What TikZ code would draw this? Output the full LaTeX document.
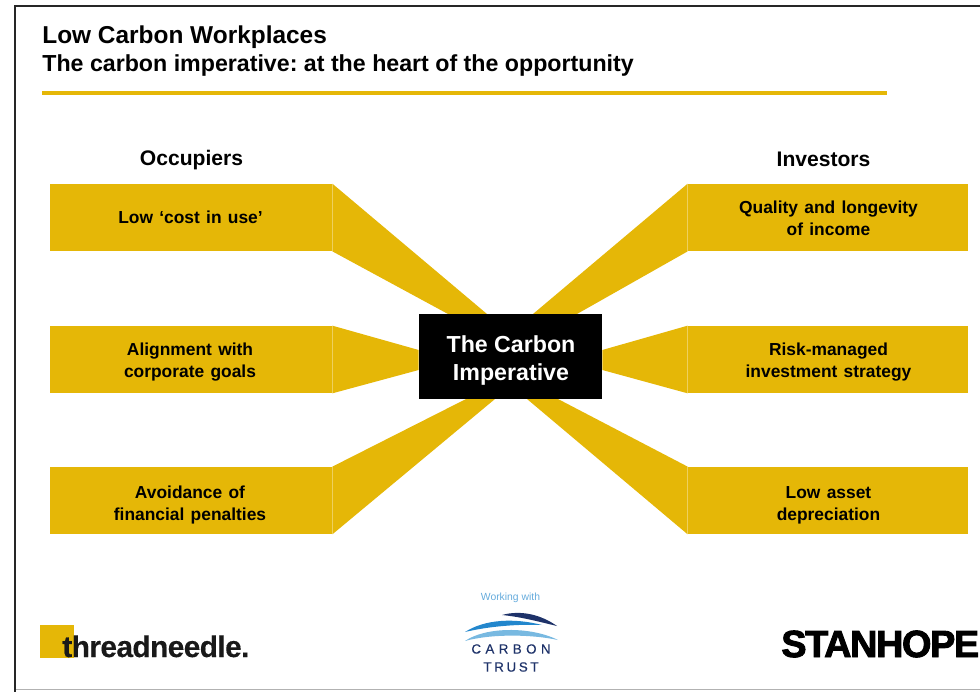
\documentclass[tikz,border=0pt]{standalone}
\usepackage{fontspec}
\setmainfont{Liberation Sans}
\newfontfamily\boxfont[WordSpace=1.3]{Liberation Sans Bold}
\newfontfamily\needlefont[LetterSpace=-2,FakeBold=0.3]{Liberation Sans Bold}
\newfontfamily\hopefont[LetterSpace=-3.5,FakeBold=2.5]{Liberation Sans Bold}
\newfontfamily\trustfont[LetterSpace=33,FakeBold=0.4]{Liberation Sans}
\newfontfamily\trustbfont[LetterSpace=20,FakeBold=0.4]{Liberation Sans}
\definecolor{gold}{RGB}{229,183,7}
\definecolor{navy}{RGB}{30,50,105}
\definecolor{midblue}{RGB}{35,135,205}
\definecolor{paleblue}{RGB}{120,185,225}
\tikzset{
  goalbox/.style={fill=gold,minimum width=5.64cm,minimum height=1.34cm,inner sep=0pt},
  goaltext/.style={inner sep=0pt,align=center,font=\fontsize{9.9}{12.5}\boxfont,text=black},
  head/.style={anchor=base,inner sep=0pt,font=\fontsize{12}{14}\selectfont\bfseries,text=black},
  title/.style={anchor=base west,inner sep=0pt,font=\fontsize{13.2}{16}\selectfont\bfseries\frenchspacing,text=black},
}
\begin{document}
\begin{tikzpicture}[x=0.02cm,y=-0.02cm]

    % constants
    \def\xl{191}
    \def\xr{828}
    \def\xt{828.5}
    \def\ya{217.5}
    \def\yb{359.5}
    \def\yc{500.5}

    \useasboundingbox (0,0) rectangle (980,692);

    % frame
    \draw [line width=0.5pt,black!30] (14,689.5) -- (980,689.5);
    \draw [line width=1.2pt,black!85] (15,692) -- (15,6) -- (980,6);

    % title
    \node [title,font=\fontsize{13.9}{16}\selectfont\bfseries] (titlea) at (42,44) {Low Carbon Workplaces};
    \node [title] (titleb) at (42,72) {The carbon imperative: at the heart of the opportunity};
    \fill [gold] (42,91.5) rectangle (887,95.5);

    \node [head] (occupiers) at (191.5,166) {Occupiers};
    \node [head] (investors) at (823.5,167) {Investors};

    % boxes
    \node [goalbox] (costuse) at (\xl,\ya) {};
    \node [goalbox] (goals) at (\xl,\yb) {};
    \node [goalbox] (penalties) at (\xl,\yc) {};
    \node [goalbox,minimum width=5.6cm] (income) at (\xr,\ya) {};
    \node [goalbox,minimum width=5.6cm] (strategy) at (\xr,\yb) {};
    \node [goalbox,minimum width=5.6cm] (depreciation) at (\xr,\yc) {};

    \node [goaltext] (costusetext) at (190.5,217) {Low ‘cost in use’};
    \node [goaltext] (goalstext) at (190,362.5) {Alignment with\\corporate goals};
    \node [goaltext] (penaltiestext) at (190,505) {Avoidance of\\financial penalties};
    \node [goaltext] (incometext) at (\xt,218.5) {Quality and longevity\\of income};
    \node [goaltext] (strategytext) at (\xt,362.5) {Risk-managed\\investment strategy};
    \node [goaltext] (depreciationtext) at (\xt,505) {Low asset\\depreciation};

    % centre
    \node [fill=black,minimum width=3.66cm,minimum height=1.7cm,inner sep=0pt] (hub) at (510.5,356.5) {};
    \node [text=white,inner sep=0pt,align=center,font=\fontsize{13.2}{16}\selectfont\bfseries] (hubtext) at (511,360.5) {The Carbon\\Imperative};

    % wedges
    \fill [gold] (costuse.north east) -- (487,314) -- (448,314) -- (costuse.south east) -- cycle;
    \fill [gold] (income.north west) -- (533,314) -- (577,314) -- (income.south west) -- cycle;
    \fill [gold] (goals.north east) -- (hub.west |- 0,350) -- (hub.west |- 0,370) -- (goals.south east) -- cycle;
    \fill [gold] (strategy.north west) -- (hub.east |- 0,350) -- (hub.east |- 0,370) -- (strategy.south west) -- cycle;
    \fill [gold] (penalties.north east) -- (466,399) -- (495,399) -- (penalties.south east) -- cycle;
    \fill [gold] (depreciation.north west) -- (558,399) -- (527,399) -- (depreciation.south west) -- cycle;

    % logos
    \fill [gold] (40,625) rectangle (74,658);
    \node [anchor=base west,inner sep=0pt,font=\fontsize{17}{20}\needlefont,text=black!90] (needle) at (62,657) {threadneedle.};
    \node [anchor=base west,inner sep=0pt,font=\fontsize{21.5}{24}\hopefont,text=black] (hope) at (781,657) {STANHOPE};

    \node [font=\fontsize{5.9}{7}\selectfont,text=midblue!70] (working) at (510.5,598) {Working with};
    \fill [navy] (502,615) .. controls (520,610) and (540,614) .. (557,626) .. controls (540,622) and (522,617) .. (502,615) -- cycle;
    \fill [midblue] (465,632) .. controls (485,619) and (515,618) .. (542,625) .. controls (520,624) and (490,626) .. (465,632) -- cycle;
    \fill [paleblue] (465,641) .. controls (485,627) and (530,626) .. (558,640) .. controls (530,634) and (490,634) .. (465,641) -- cycle;
    \node [font=\fontsize{7.6}{9}\trustfont,text=navy] (carbon) at (511,649) {CARBON};
    \node [font=\fontsize{7.6}{9}\trustbfont,text=navy] (trust) at (511,667) {TRUST};

\end{tikzpicture}
\end{document}
